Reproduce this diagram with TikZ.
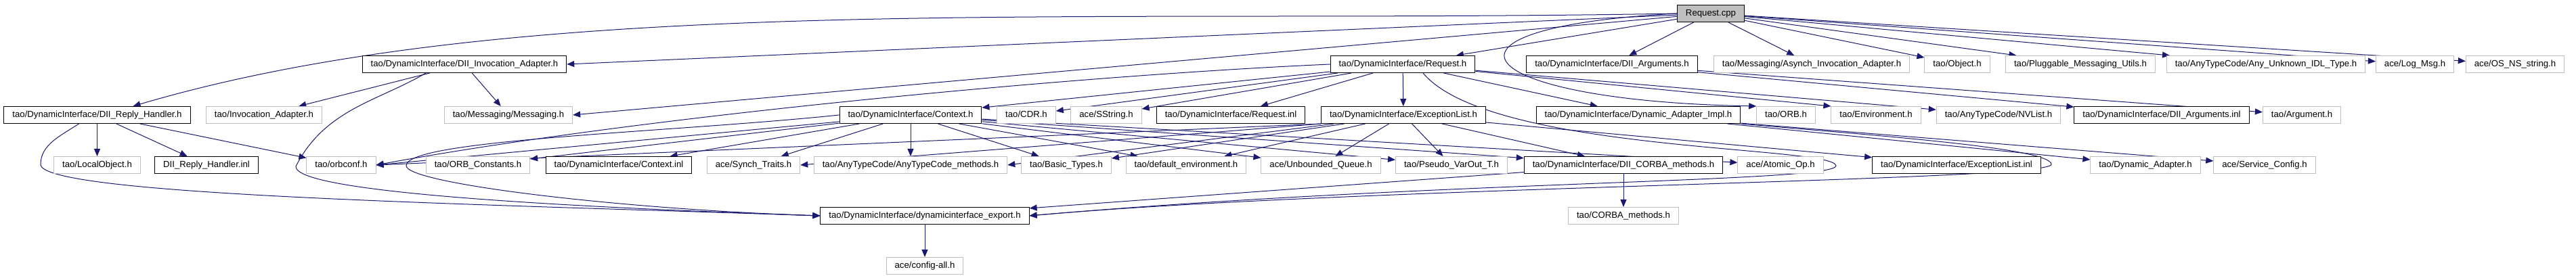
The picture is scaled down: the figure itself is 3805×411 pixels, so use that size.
\documentclass[tikz,border=0pt]{standalone}
\usepackage{fontspec}
\setmainfont{Liberation Sans}
\usetikzlibrary{arrows.meta}
\definecolor{edgeblue}{HTML}{191970}
\definecolor{boxgray}{HTML}{BFBFBF}
\pgfdeclarelayer{edges}
\pgfsetlayers{edges,main}

\begin{document}
\begin{tikzpicture}[x=1pt,y=1pt,
  font=\fontsize{13.2}{15}\selectfont,
  every node/.style={rectangle, minimum height=25pt, inner xsep=12.5pt, inner ysep=0pt,
    text height=9.5pt, text depth=2.8pt, line width=1pt},
  hdr/.style={draw=black, fill=white},
  ext/.style={draw=boxgray, fill=white},
  root/.style={draw=black, fill=boxgray},
  dep/.style={every edge/.style={draw=edgeblue, line width=1pt, -{Triangle[length=11pt,width=9pt]}}},
  detour/.style={draw=edgeblue, line width=1pt, -{Triangle[length=11pt,width=9pt]}}]
\useasboundingbox (0,0) rectangle (3805,411);

\node[root] (P0) at (2527,391) {Request.cpp};

\node[hdr] (P1) at (686,316) {tao/DynamicInterface/DII\_Invocation\_Adapter.h};
\node[hdr] (P2) at (2072,316) {tao/DynamicInterface/Request.h};
\node[hdr] (P3) at (2381,316) {tao/DynamicInterface/DII\_Arguments.h};
\node[ext] (P4) at (2676,316) {tao/Messaging/Asynch\_Invocation\_Adapter.h};
\node[ext] (P5) at (2891,316) {tao/Object.h};
\node[ext] (P6) at (3073,316) {tao/Pluggable\_Messaging\_Utils.h};
\node[ext] (P7) at (3347,316) {tao/AnyTypeCode/Any\_Unknown\_IDL\_Type.h};
\node[ext] (P8) at (3567,316) {ace/Log\_Msg.h};
\node[ext] (P9) at (3715,316) {ace/OS\_NS\_string.h};

\node[hdr] (P10) at (143.5,241) {tao/DynamicInterface/DII\_Reply\_Handler.h};
\node[ext] (P11) at (390,241) {tao/Invocation\_Adapter.h};
\node[ext] (P12) at (751,241) {tao/Messaging/Messaging.h};
\node[hdr] (P13) at (1345,241) {tao/DynamicInterface/Context.h};
\node[ext] (P14) at (1516,241) {tao/CDR.h};
\node[ext] (P15) at (1634,241) {ace/SString.h};
\node[hdr] (P16) at (1818,241) {tao/DynamicInterface/Request.inl};
\node[hdr] (P17) at (2073,241) {tao/DynamicInterface/ExceptionList.h};
\node[hdr] (P18) at (2420,241) {tao/DynamicInterface/Dynamic\_Adapter\_Impl.h};
\node[ext] (P19) at (2638,241) {tao/ORB.h};
\node[ext] (P20) at (2771,241) {tao/Environment.h};
\node[ext] (P21) at (2952,241) {tao/AnyTypeCode/NVList.h};
\node[hdr] (P22) at (3193,241) {tao/DynamicInterface/DII\_Arguments.inl};
\node[ext] (P23) at (3400,241) {tao/Argument.h};

\node[ext] (P24) at (143.5,167) {tao/LocalObject.h};
\node[hdr] (P25) at (305,167) {DII\_Reply\_Handler.inl};
\node[ext] (P26) at (504,167) {tao/orbconf.h};
\node[ext] (P27) at (706,167) {tao/ORB\_Constants.h};
\node[hdr] (P28) at (914,167) {tao/DynamicInterface/Context.inl};
\node[ext] (P29) at (1113,167) {ace/Synch\_Traits.h};
\node[ext] (P30) at (1345,167) {tao/AnyTypeCode/AnyTypeCode\_methods.h};
\node[ext] (P31) at (1575,167) {tao/Basic\_Types.h};
\node[ext] (P32) at (1752,167) {tao/default\_environment.h};
\node[ext] (P33) at (1951,167) {ace/Unbounded\_Queue.h};
\node[ext] (P34) at (2144,167) {tao/Pseudo\_VarOut\_T.h};
\node[hdr] (P35) at (2398,167) {tao/DynamicInterface/DII\_CORBA\_methods.h};
\node[ext] (P36) at (2630,167) {ace/Atomic\_Op.h};
\node[hdr] (P37) at (2890,167) {tao/DynamicInterface/ExceptionList.inl};
\node[ext] (P38) at (3169,167) {tao/Dynamic\_Adapter.h};
\node[ext] (P39) at (3345,167) {ace/Service\_Config.h};

\node[hdr] (P40) at (1366,92) {tao/DynamicInterface/dynamicinterface\_export.h};
\node[ext] (P41) at (2398,92) {tao/CORBA\_methods.h};

\node[ext] (P42) at (1366,18) {ace/config-all.h};

\begin{pgfonlayer}{edges}
\path[dep]
(P0) edge (P1.east)
(P0) edge (P12.east)
(P0) edge (P2)
(P0) edge (P3)
(P0) edge (P4)
(P0) edge (P5)
(P0) edge (P6)
(P0) edge (P7)
(P0) edge (P8)
(P0) edge (P9)
(P1) edge (P11)
(P1) edge (P12)
(P2) edge (P13)
(P2) edge (P14)
(P2) edge (P15)
(P2) edge (P16)
(P2) edge (P17)
(P2) edge (P18)
(P2) edge (P20.north west)
(P2) edge (P21)
(P3) edge (P22)
(P3) edge (P23)
(P10) edge (P24)
(P10) edge (P25)
(P10) edge (P26)
(P13) edge (P26.east)
(P13) edge (P27)
(P13) edge (P28)
(P13) edge (P29)
(P13) edge (P30)
(P13) edge (P31)
(P13) edge (P32)
(P13) edge (P33)
(P13) edge (P34)
(P13) edge (P35)
(P13) edge (P36)
(P17.south west) edge (P26.east)
(P17.south west) edge (P29.east)
(P17) edge (P30.east)
(P17) edge (P31)
(P17) edge (P32)
(P17) edge (P33)
(P17) edge (P34)
(P17) edge (P35)
(P17) edge (P37)
(P18) edge (P38)
(P18) edge (P39)
(P35) edge (P41)
(P35) edge (P40)
(P40) edge (P42);

% long curved ones
\draw[detour] (P0.west) .. controls (1579,375) and (776,425) .. ([xshift=53pt]P10.north);
\draw[detour] (P0.west) .. controls (2080,370) and (2170,262) .. (P19.north west);
\draw[detour] (P2.west) .. controls (1600,300) and (950,240) .. (P26.east);

% edges to the export header that go round other boxes
\coordinate (LA) at (2712,166);
\coordinate (LB) at (3030,168);
\coordinate (LC) at (60,168);
\coordinate (LD) at (437,165);
\coordinate (LE) at (600,166);
\draw[detour] ([xshift=30pt]P2.south) .. controls (2200,185) and (2708,196) .. (LA)
  .. controls (2712,141) and (2119,144) .. (P40.east);
\draw[detour] (P18.south east) .. controls (2751,212) and (3030,193) .. (LB)
  .. controls (3030,143) and (2019,136) .. (P40.east);
\draw[detour] ([xshift=-27pt]P10.south) .. controls (89,210) and (60,197) .. (LC)
  .. controls (60,122) and (711,109) .. (P40.west);
\draw[detour] ([xshift=-57pt]P1.south) .. controls (560,262) and (480,250) .. (LD)
  .. controls (435,125) and (861,104) .. (P40.west);
\draw[detour] (P13.west) .. controls (990,215) and (600,205) .. (LE)
  .. controls (600,140) and (911,102) .. (P40.west);
\end{pgfonlayer}
\end{tikzpicture}
\end{document}
